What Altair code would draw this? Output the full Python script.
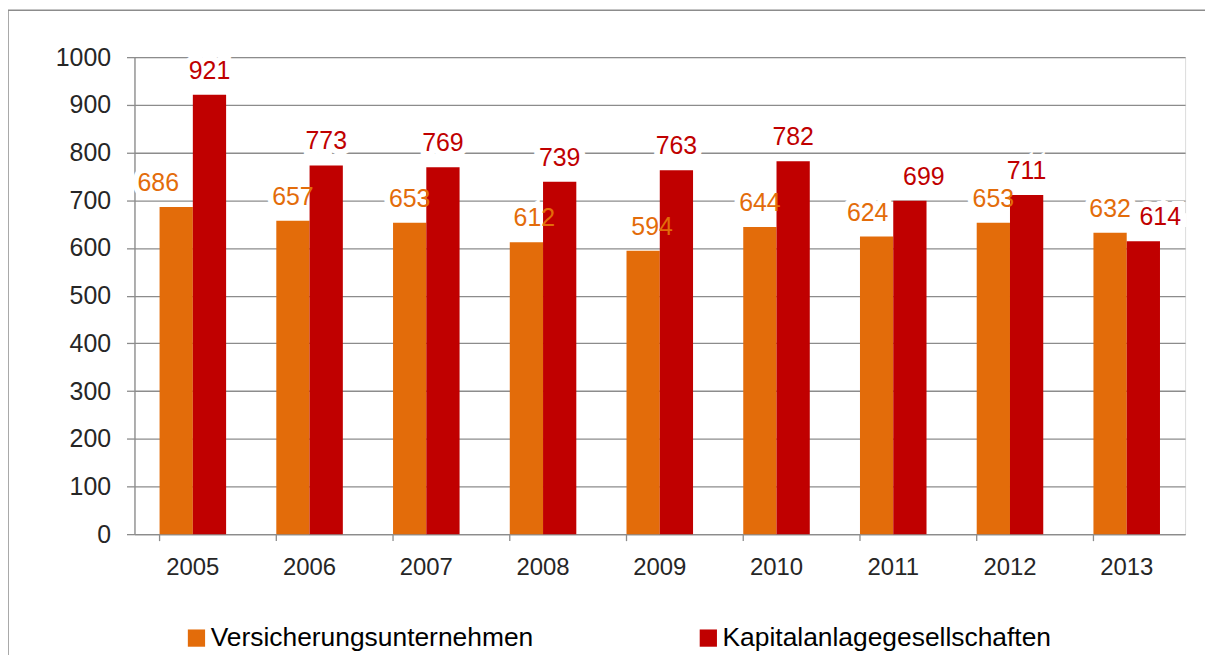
import altair as alt
import pandas as pd

years = ["2005", "2006", "2007", "2008", "2009", "2010", "2011", "2012", "2013"]
versicherung = [686, 657, 653, 612, 594, 644, 624, 653, 632]
kapital = [921, 773, 769, 739, 763, 782, 699, 711, 614]
series = ["Versicherungsunternehmen", "Kapitalanlagegesellschaften"]
colors = ["#E36C0A", "#C00000"]

rows = []
for i, y in enumerate(years):
    rows.append({"year": y, "series": series[0], "value": versicherung[i]})
    rows.append({"year": y, "series": series[1], "value": kapital[i]})
df = pd.DataFrame(rows)
ydf = pd.DataFrame({"year": years})

FONT = "Liberation Sans"
W, H = 1055, 479
GRAY = "#8C8C8C"

xscale = alt.Scale(paddingInner=0.43, paddingOuter=0.215)
cscale = alt.Scale(domain=series, range=colors)
xo = alt.XOffset("series:N", sort=series, scale=alt.Scale(paddingInner=0))
xenc = alt.X("year:N", scale=xscale, title=None)
yenc = alt.Y("value:Q", scale=alt.Scale(domain=[0, 1000], nice=False), title=None)

border = alt.Chart(pd.DataFrame({"a": [0]})).mark_rect(
    fill=None, stroke=GRAY, strokeWidth=1.5
).encode(x=alt.value(-127), x2=alt.value(1078), y=alt.value(-47), y2=alt.value(620))

bars = alt.Chart(df).mark_bar().encode(
    x=xenc, xOffset=xo, y=yenc,
    color=alt.Color("series:N", sort=series, scale=cscale,
                    legend=alt.Legend(title=None, orient="none", legendX=49, legendY=570,
                                      direction="horizontal", symbolType="square",
                                      symbolSize=300, symbolStrokeWidth=0,
                                      labelFontSize=26.5, labelFont=FONT, labelColor="#000000",
                                      columnPadding=162, labelOffset=1, labelLimit=500)),
)

xticks = alt.Chart(ydf).mark_rule(color=GRAY, strokeWidth=1.3).encode(
    x=alt.X("year:N", scale=xscale, title=None, bandPosition=0),
    y=alt.value(H), y2=alt.value(H + 7),
)

# label nudges (pixels) where the original chart moved labels to avoid collisions
nudges = {("2005", series[0]): -18, ("2011", series[0]): -9,
          ("2011", series[1]): 14, ("2013", series[1]): 17,
          ("2008", series[0]): 8, ("2009", series[0]): 9}

def label_layer(data, dx, halo=False):
    if halo:
        mark = alt.Chart(data).mark_text(dy=-11, dx=dx, baseline="bottom", fontSize=25,
                                         font=FONT, fill="white", stroke="white",
                                         strokeWidth=12, strokeJoin="miter")
        return mark.encode(x=xenc, xOffset=xo, y=yenc, text="value:Q")
    return alt.Chart(data).mark_text(dy=-11, dx=dx, baseline="bottom", fontSize=25,
                                     font=FONT).encode(
        x=xenc, xOffset=xo, y=yenc, text="value:Q",
        color=alt.Color("series:N", sort=series, scale=cscale, legend=None),
    )

mask = df.apply(lambda r: (r["year"], r["series"]) in nudges, axis=1)
groups = [(df[~mask], 0)]
for (yr, s), dx in nudges.items():
    groups.append((df[(df["year"] == yr) & (df["series"] == s)], dx))

halo_layers = [label_layer(d, dx, halo=True) for d, dx in groups]
label_layers = [label_layer(d, dx) for d, dx in groups]

chart = alt.layer(border, *halo_layers, bars, xticks, *label_layers).properties(
    width=W, height=H, padding={"left": 127, "top": 48, "right": 20, "bottom": 120},
    autosize=alt.AutoSizeParams(type="none"),
).configure_view(stroke=None).configure(background="white").configure_axisX(
    labelAngle=0, labelFontSize=24, labelFont=FONT, labelColor="#262626",
    ticks=False, domain=True, domainColor=GRAY, domainWidth=1.3,
    labelPadding=22, grid=False,
).configure_axisY(
    values=list(range(0, 1001, 100)), format="d", grid=True,
    gridColor=GRAY, gridWidth=1.3, domainColor=GRAY,
    domainWidth=1.3, tickColor=GRAY, tickSize=8, tickWidth=1.3,
    labelFontSize=25, labelFont=FONT, labelColor="#262626", labelPadding=16,
)

chart.save("out.html", embed_options={"renderer": "svg", "actions": False})
